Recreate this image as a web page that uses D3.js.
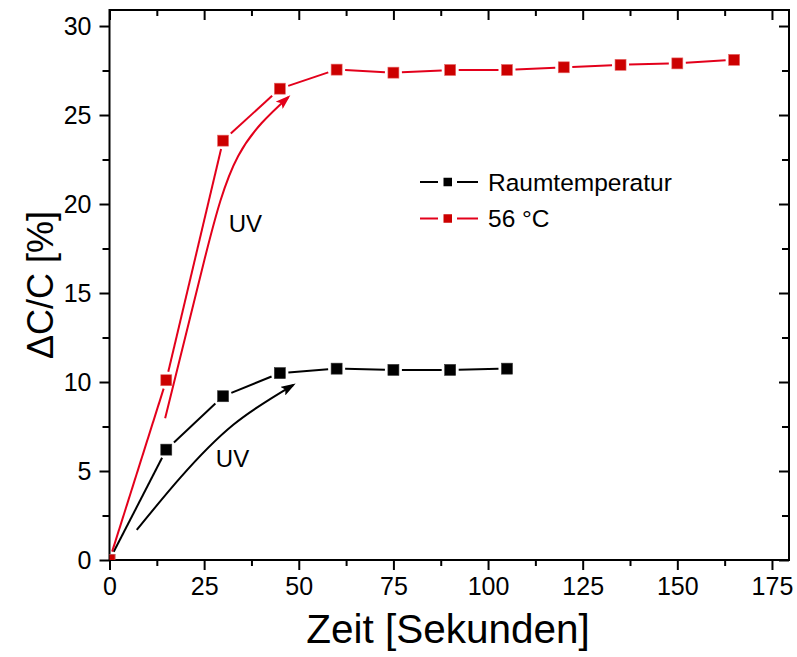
<!DOCTYPE html>
<html><head><meta charset="utf-8">
<script src="https://cdn.jsdelivr.net/npm/d3@7"></script>
<style>
html,body{margin:0;padding:0;background:#fff;}
text{font-family:"Liberation Sans",Arial,sans-serif;fill:#000;}
</style></head>
<body>
<svg id="chart" width="797" height="657"></svg>
<script>
// ---- data ----
const timeRT = [0, 15, 30, 45, 60, 75, 90, 105];
const valuesRT = [0, 6.2, 9.2, 10.5, 10.75, 10.68, 10.68, 10.75];
const time56 = [0, 15, 30, 45, 60, 75, 90, 105, 120, 135, 150, 165];
const values56 = [0, 10.1, 23.56, 26.48, 27.55, 27.38, 27.53, 27.53, 27.68, 27.82, 27.9, 28.1];
const seriesNames = ["Raumtemperatur", "56 °C"];
const seriesColors = ["#000000", "#cc0000"];
const lineColors = ["#000000", "#e3001b"];
const xTicks = [0, 25, 50, 75, 100, 125, 150, 175];
const yTicks = [0, 5, 10, 15, 20, 25, 30];
const xLabel = "Zeit [Sekunden]";
const yLabel = "ΔC/C [%]";
// annotation arrows (data units)
const arrowRTx = [7.2, 18.6, 32.7, 48.5];
const arrowRTy = [1.69, 4.6, 7.6, 9.83];
const arrow56x = [14.7, 25.0, 34.0, 47.2];
const arrow56y = [7.96, 16.8, 22.7, 26.0];
const uvLabels = [{t:"UV", x:32.5, y:5.7}, {t:"UV", x:35.9, y:18.9}];

// ---- layout ----
const svg = d3.select("#chart");
const x = d3.scaleLinear().domain([0, 179.5]).range([109.5, 789]);
const y = d3.scaleLinear().domain([0, 30.9]).range([560, 10]);
const [x0, x1] = x.range(), [y0, y1] = y.range();

const defs = svg.append("defs");
defs.append("clipPath").attr("id","plotclip")
  .append("rect").attr("x",x0).attr("y",y1).attr("width",x1-x0).attr("height",y0-y1);

// arrowheads
["#000000","#e3001b"].forEach((c,i)=>{
  defs.append("marker").attr("id","ah"+i)
    .attr("viewBox","0 0 10 10").attr("refX",8).attr("refY",5)
    .attr("markerWidth",15).attr("markerHeight",10).attr("markerUnits","userSpaceOnUse")
    .attr("preserveAspectRatio","none")
    .attr("orient","auto")
    .append("path").attr("d","M0,0 L10,5 L0,10 L2,5 Z").attr("fill",c);
});

// axes
const minorX = d3.range(0, 180, 12.5).filter(v=>v%25!==0);
const minorY = d3.range(0, 31, 2.5).filter(v=>v%5!==0);
const fs = 25;
const gx = svg.append("g").attr("transform",`translate(0,${y0})`)
  .call(d3.axisBottom(x).tickValues(xTicks).tickSize(10).tickPadding(6).tickFormat(d3.format("d")));
const gxm = svg.append("g").attr("transform",`translate(0,${y0})`)
  .call(d3.axisBottom(x).tickValues(minorX).tickSize(6).tickFormat(""));
const gy = svg.append("g").attr("transform",`translate(${x0},0)`)
  .call(d3.axisLeft(y).tickValues(yTicks).tickSize(10).tickPadding(8).tickFormat(d3.format("d")));
const gym = svg.append("g").attr("transform",`translate(${x0},0)`)
  .call(d3.axisLeft(y).tickValues(minorY).tickSize(7).tickFormat(""));
const gt = svg.append("g").attr("transform",`translate(0,${y1})`)
  .call(d3.axisBottom(x).tickValues(xTicks).tickSize(10).tickFormat(""));
const gtm = svg.append("g").attr("transform",`translate(0,${y1})`)
  .call(d3.axisBottom(x).tickValues(minorX).tickSize(6).tickFormat(""));
const gr = svg.append("g").attr("transform",`translate(${x1},0)`)
  .call(d3.axisLeft(y).tickValues(yTicks).tickSize(10).tickFormat(""));
const grm = svg.append("g").attr("transform",`translate(${x1},0)`)
  .call(d3.axisLeft(y).tickValues(minorY).tickSize(7).tickFormat(""));
[gx,gxm,gy,gym,gt,gtm,gr,grm].forEach(g=>{
  g.select(".domain").remove();
  g.selectAll("line").attr("stroke","#000").attr("stroke-width",2);
  g.selectAll("text").style("font-size",fs+"px").style("font-family",'"Liberation Sans",Arial,sans-serif');
});
gx.selectAll("text").attr("dy","0.75em");
svg.append("rect").attr("x",x0).attr("y",y1).attr("width",x1-x0).attr("height",y0-y1)
  .attr("fill","none").attr("stroke","#000").attr("stroke-width",2);

// axis titles
svg.append("text").attr("x",448).attr("y",643).attr("text-anchor","middle")
  .style("font-size","40.5px").text(xLabel);
svg.append("text").attr("transform","translate(53,285) rotate(-90)").attr("text-anchor","middle")
  .style("font-size","36px").text(yLabel);

// series
const plot = svg.append("g").attr("clip-path","url(#plotclip)");
const ms = 11, gap = 3;
function drawSeries(xs, ys, i){
  const pts = xs.map((v,k)=>[x(v), y(ys[k])]);
  const g = svg.append("g");
  for(let k=0;k<pts.length-1;k++){
    const [ax,ay]=pts[k],[bx,by]=pts[k+1];
    const dx=bx-ax, dy=by-ay, L=Math.hypot(dx,dy), ux=dx/L, uy=dy/L;
    const d = (ms/2)/Math.max(Math.abs(ux),Math.abs(uy)) + gap;
    g.append("line").attr("x1",ax+ux*d).attr("y1",ay+uy*d)
      .attr("x2",bx-ux*d).attr("y2",by-uy*d)
      .attr("stroke",lineColors[i]).attr("stroke-width",2);
  }
  plot.selectAll(null).data(pts).enter().append("rect")
    .attr("x",d=>d[0]-ms/2).attr("y",d=>d[1]-ms/2).attr("width",ms).attr("height",ms)
    .attr("fill",seriesColors[i]).attr("stroke",i?"#e86a6a":"#333").attr("stroke-width",0.6);
}
drawSeries(timeRT, valuesRT, 0);
drawSeries(time56, values56, 1);

// annotation arrows
const lineGen = d3.line().x(d=>x(d[0])).y(d=>y(d[1])).curve(d3.curveNatural);
svg.append("path").datum(arrowRTx.map((v,k)=>[v,arrowRTy[k]])).attr("d",lineGen)
  .attr("fill","none").attr("stroke","#000").attr("stroke-width",2).attr("marker-end","url(#ah0)");
svg.append("path").datum(arrow56x.map((v,k)=>[v,arrow56y[k]])).attr("d",lineGen)
  .attr("fill","none").attr("stroke","#e3001b").attr("stroke-width",2).attr("marker-end","url(#ah1)");
uvLabels.forEach(u=>{
  svg.append("text").attr("x",x(u.x)).attr("y",y(u.y)).attr("text-anchor","middle")
    .attr("dy","0.35em").style("font-size","24px").text(u.t);
});

// legend
const legY = [182, 218.5];
seriesNames.forEach((n,i)=>{
  const g = svg.append("g");
  g.append("line").attr("x1",420).attr("x2",438).attr("y1",legY[i]).attr("y2",legY[i])
    .attr("stroke",lineColors[i]).attr("stroke-width",2);
  g.append("line").attr("x1",457).attr("x2",478).attr("y1",legY[i]).attr("y2",legY[i])
    .attr("stroke",lineColors[i]).attr("stroke-width",2);
  g.append("rect").attr("x",443.5).attr("y",legY[i]-4.25).attr("width",8.5).attr("height",8.5)
    .attr("fill",seriesColors[i]);
  g.append("text").attr("x",488).attr("y",legY[i]).attr("dy","0.36em")
    .style("font-size","24.5px").text(n);
});
</script>
</body></html>
